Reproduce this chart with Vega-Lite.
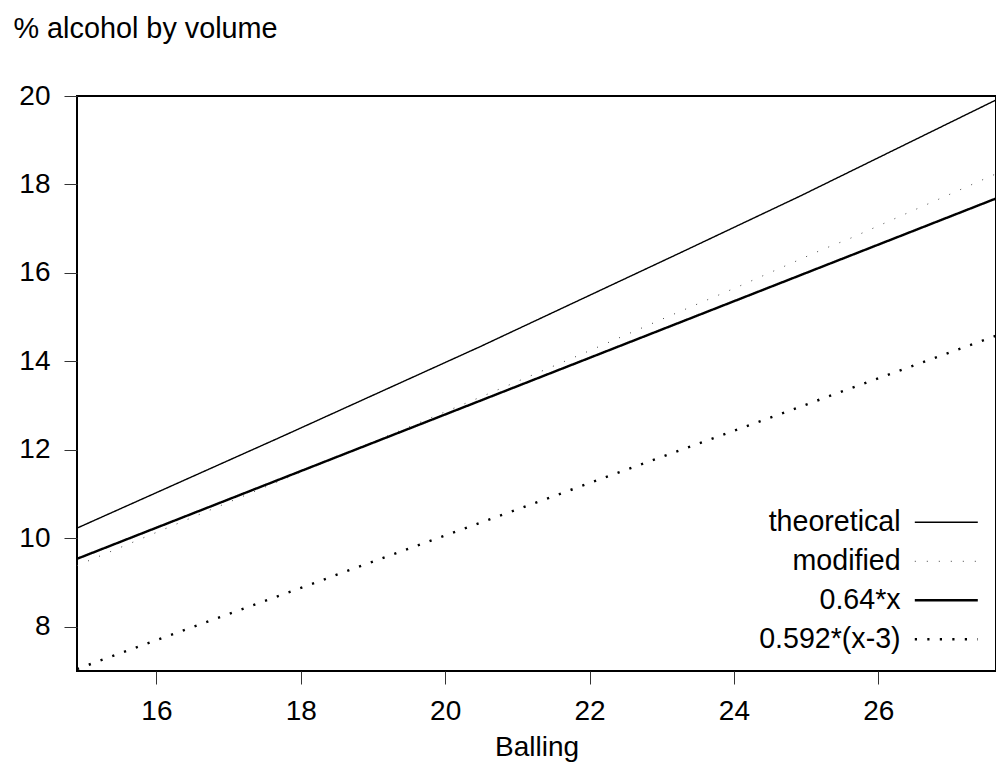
{
  "$schema": "https://vega.github.io/schema/vega-lite/v6.json",
  "width": 919,
  "height": 575,
  "autosize": {"type": "none"},
  "padding": {"left": 77, "top": 96, "right": 0, "bottom": 96},
  "background": "white",
  "config": {
    "view": {"stroke": "black", "strokeWidth": 2},
    "font": "Liberation Sans",
    "axis": {"grid": false, "domain": false, "labelFont": "Liberation Sans", "labelFontSize": 28, "labelColor": "black", "titleFont": "Liberation Sans", "titleFontSize": 28, "titleFontWeight": "normal", "titleColor": "black", "tickColor": "#333", "tickWidth": 1, "tickSize": 13}
  },
  "data": {
    "values": [
      {"series": "theoretical", "x": 14.9, "y": 10.23},
      {"series": "theoretical", "x": 17.71, "y": 12.28},
      {"series": "theoretical", "x": 20.48, "y": 14.33},
      {"series": "theoretical", "x": 23.25, "y": 16.45},
      {"series": "theoretical", "x": 24.92, "y": 17.74},
      {"series": "theoretical", "x": 27.63, "y": 19.91},
      {"series": "modified", "x": 14.9, "y": 9.38},
      {"series": "modified", "x": 15.07, "y": 9.5},
      {"series": "modified", "x": 20.5, "y": 13.2},
      {"series": "modified", "x": 21.87, "y": 14.15},
      {"series": "modified", "x": 23.04, "y": 14.98},
      {"series": "modified", "x": 24.06, "y": 15.69},
      {"series": "modified", "x": 25.24, "y": 16.54},
      {"series": "modified", "x": 25.58, "y": 16.76},
      {"series": "modified", "x": 27.63, "y": 18.24},
      {"series": "0.64*x", "x": 14.9, "y": 9.536},
      {"series": "0.64*x", "x": 27.63, "y": 17.683},
      {"series": "0.592*(x-3)", "x": 14.9, "y": 7.045},
      {"series": "0.592*(x-3)", "x": 27.63, "y": 14.581}
    ]
  },
  "mark": {"type": "line", "clip": true, "strokeCap": "butt"},
  "encoding": {
    "x": {
      "field": "x", "type": "quantitative",
      "scale": {"domain": [14.9, 27.63], "nice": false, "zero": false},
      "axis": {"values": [16, 18, 20, 22, 24, 26], "title": "Balling", "labelPadding": 13, "titlePadding": 8}
    },
    "y": {
      "field": "y", "type": "quantitative",
      "scale": {"domain": [7, 20], "nice": false, "zero": false},
      "axis": {"values": [8, 10, 12, 14, 16, 18, 20], "labelPadding": 14, "title": "% alcohol by volume", "titleFontSize": 28.8, "titleAngle": 0, "titleAlign": "left", "titleBaseline": "alphabetic", "titleX": -64, "titleY": -59}
    },
    "color": {
      "field": "series", "type": "ordinal",
      "scale": {"domain": ["theoretical", "modified", "0.64*x", "0.592*(x-3)"], "range": ["black", "#444", "black", "black"]},
      "legend": {"title": null, "orient": "none", "legendX": 855, "legendY": 412, "symbolType": "M-3,0H3", "symbolSize": 441, "labelAlign": "right", "labelOffset": -60, "labelFont": "Liberation Sans", "labelFontSize": 28.6, "labelColor": "black", "rowPadding": 10, "padding": 0, "labelLimit": 400}
    },
    "strokeDash": {
      "field": "series", "type": "ordinal",
      "scale": {"domain": ["theoretical", "modified", "0.64*x", "0.592*(x-3)"], "range": [[1, 0], [1, 11], [1, 0], [2.2, 10.3]]}
    },
    "strokeWidth": {
      "field": "series", "type": "ordinal",
      "scale": {"type": "ordinal", "domain": ["theoretical", "modified", "0.64*x", "0.592*(x-3)"], "range": [1.4, 1, 2.4, 2.4]}
    }
  }
}
